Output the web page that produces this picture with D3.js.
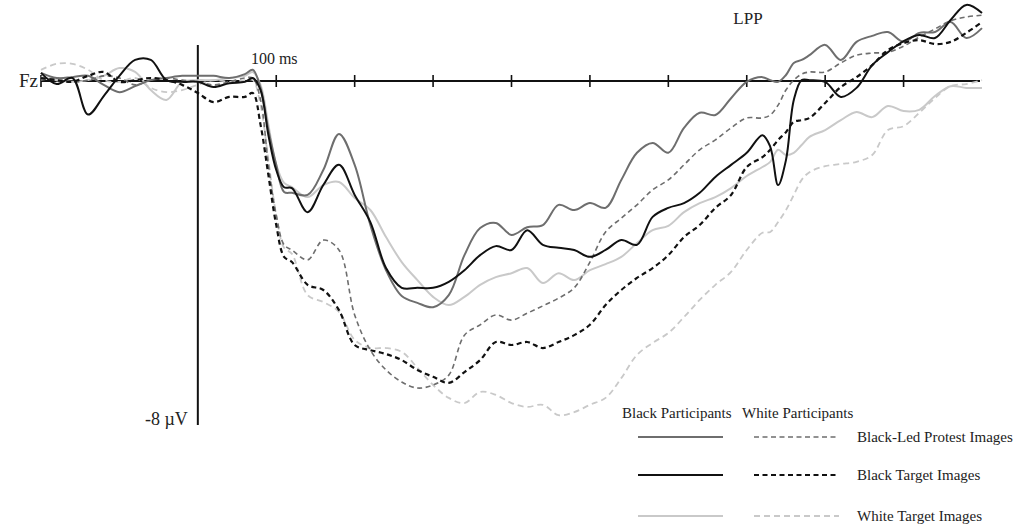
<!DOCTYPE html>
<html>
<head>
<meta charset="utf-8">
<script src="https://cdn.jsdelivr.net/npm/d3@7/dist/d3.min.js"></script>
<style>
  body { margin: 0; background: #fff; }
  text { font-family: "Liberation Serif", "Times New Roman", serif; fill: #222; }
</style>
</head>
<body>
<div id="vis"></div>
<script>
// ERP at Fz, time in ms, amplitude in microvolts (negative plotted down)
const times = [-200, -180, -160, -140, -120, -100, -80, -60, -40, -20,
  0, 20, 40, 60, 70, 80, 90, 100, 110, 120,
  140, 160, 180, 200, 220, 240, 260, 280, 300, 320,
  340, 360, 380, 400, 420, 440, 460, 480, 500, 520,
  540, 560, 580, 600, 620, 640, 660, 680, 700, 720,
  730, 740, 750, 760, 770, 780, 800, 820, 840, 860,
  880, 900, 920, 940, 960, 980, 1000]

// Black participants
const blackPartProtest = [0.19, 0.07, 0.09, 0.12, -0.09, -0.26, -0.12, 0.02, 0.07, 0.12,
  0.12, 0.12, 0.07, 0.16, 0.26, -0.16, -1.14, -1.95, -2.58, -2.60,
  -2.65, -2.07, -1.23, -1.95, -3.35, -4.40, -5.00, -5.16, -5.26, -4.98,
  -4.05, -3.42, -3.30, -3.58, -3.40, -3.35, -2.88, -3.00, -2.84, -2.95,
  -2.30, -1.67, -1.44, -1.67, -1.09, -0.74, -0.79, -0.40, -0.02, 0.09,
  0.02, -0.02, 0.14, 0.42, 0.49, 0.60, 0.84, 0.49, 0.91, 1.05,
  1.14, 0.91, 1.12, 1.14, 1.37, 1.00, 1.23]
const blackPartBlack = [0.19, -0.07, 0.07, -0.78, -0.35, 0.12, 0.49, 0.49, 0.02, -0.02,
  -0.02, -0.14, -0.05, -0.02, 0.07, -0.21, -1.26, -2.07, -2.47, -2.49,
  -3.05, -2.42, -1.95, -2.65, -3.28, -4.35, -4.81, -4.81, -4.81, -4.67,
  -4.40, -4.05, -3.84, -3.93, -3.47, -3.81, -3.88, -3.93, -4.09, -3.93,
  -3.70, -3.81, -3.16, -2.95, -2.84, -2.60, -2.23, -1.95, -1.67, -1.26,
  -1.53, -2.42, -1.84, -0.44, 0.02, 0.02, -0.02, -0.37, -0.16, 0.37,
  0.67, 0.93, 1.07, 1.00, 1.42, 1.77, 1.58]
const blackPartWhite = [0.09, 0.02, -0.02, 0.02, 0.12, 0.30, 0.21, -0.21, -0.44, -0.02,
  0.02, 0.02, 0.07, 0.12, 0.21, -0.09, -1.02, -1.95, -2.37, -2.47,
  -2.70, -2.42, -2.35, -2.72, -3.00, -3.63, -4.21, -4.63, -5.02, -5.21,
  -5.02, -4.74, -4.56, -4.47, -4.35, -4.70, -4.47, -4.63, -4.40, -4.26,
  -4.09, -3.77, -3.47, -3.37, -3.05, -2.84, -2.70, -2.49, -2.21, -2.00,
  -1.88, -1.60, -1.72, -1.67, -1.49, -1.30, -1.14, -0.91, -0.72, -0.84,
  -0.58, -0.70, -0.67, -0.35, -0.12, -0.16, -0.16]

// White participants
const whitePartProtest = [0.02, 0.07, -0.02, 0.02, 0.12, 0.07, -0.09, 0.02, 0.07, 0.02,
  -0.02, -0.09, -0.02, 0.07, 0.07, -0.44, -1.95, -3.12, -3.81, -3.93,
  -4.16, -3.70, -3.93, -5.44, -6.26, -6.72, -7.00, -7.14, -7.07, -6.84,
  -5.91, -5.67, -5.44, -5.56, -5.40, -5.23, -5.05, -4.81, -4.21, -3.51,
  -3.19, -2.88, -2.53, -2.30, -1.95, -1.60, -1.37, -1.09, -0.86, -0.86,
  -0.79, -0.56, -0.21, 0.02, 0.16, 0.21, 0.21, 0.42, 0.60, 0.65,
  0.67, 0.81, 1.02, 1.21, 1.40, 1.49, 1.53]
const whitePartBlack = [0.07, 0.02, -0.02, 0.12, 0.21, -0.02, 0.02, 0.07, 0.02, -0.09,
  -0.28, -0.49, -0.37, -0.37, -0.28, -1.02, -2.19, -3.35, -4.09, -4.21,
  -4.74, -4.86, -5.33, -6.14, -6.26, -6.35, -6.49, -6.72, -6.88, -7.02,
  -6.77, -6.49, -6.07, -6.14, -6.07, -6.21, -6.07, -5.91, -5.67, -5.21,
  -4.86, -4.58, -4.35, -4.05, -3.63, -3.35, -2.95, -2.65, -2.00, -1.77,
  -1.60, -1.37, -1.19, -0.95, -0.91, -0.86, -0.51, -0.14, 0.09, 0.37,
  0.72, 0.88, 0.95, 0.86, 0.91, 1.12, 1.37]
const whitePartWhite = [0.26, 0.40, 0.40, 0.26, 0.02, -0.02, 0.07, -0.16, -0.26, -0.21,
  -0.09, 0.02, -0.02, 0.02, 0.02, -0.56, -1.84, -3.12, -3.88, -4.02,
  -4.98, -5.14, -5.37, -6.02, -6.21, -6.21, -6.30, -6.67, -7.07, -7.37,
  -7.49, -7.23, -7.30, -7.49, -7.58, -7.53, -7.77, -7.70, -7.53, -7.37,
  -6.91, -6.37, -6.09, -5.86, -5.49, -5.09, -4.74, -4.44, -3.93, -3.53,
  -3.51, -3.28, -3.00, -2.65, -2.30, -2.12, -1.98, -1.93, -1.88, -1.72,
  -1.14, -1.05, -0.74, -0.40, -0.12, -0.07, 0.02]

const tickTimes = [-200, 100, 200, 300, 400, 500, 600, 700, 800, 900]
const groupLabels = ["Black Participants", "White Participants"]
const imageLabels = ["Black-Led Protest Images", "Black Target Images", "White Target Images"]

const W = 1019, H = 527

const x = d3.scaleLinear().domain([-200, 1000]).range([41, 982])
const y = d3.scaleLinear().domain([-8, 0]).range([425, 81])

// styles per image type (row) and participant group (column)
const strokeColor = ["#6e6e6e", "#111", "#c9c9c9"]
const solidWidth = [2, 2, 2]
const dashWidth = [1.6, 2.2, 1.8]
const dashPattern = ["5,3.5", "5,3.5", "6,4"]

const series = [
  { vals: blackPartWhite, row: 2, col: 0 },
  { vals: whitePartWhite, row: 2, col: 1 },
  { vals: blackPartProtest, row: 0, col: 0 },
  { vals: whitePartProtest, row: 0, col: 1 },
  { vals: whitePartBlack, row: 1, col: 1 },
  { vals: blackPartBlack, row: 1, col: 0 },
]

const svg = d3.select("#vis").append("svg")
  .attr("width", W)
  .attr("height", H)

//axes
svg.append("line")
  .attr("x1", x(-200)).attr("x2", x(1000) - 2)
  .attr("y1", y(0)).attr("y2", y(0))
  .attr("stroke", "#111").attr("stroke-width", 2)

svg.selectAll(".tick")
  .data(tickTimes)
  .join("line")
  .attr("class", "tick")
  .attr("x1", d => x(d)).attr("x2", d => x(d))
  .attr("y1", y(0) - 6).attr("y2", y(0) + 6)
  .attr("stroke", "#111").attr("stroke-width", 1.6)

svg.append("line")
  .attr("x1", x(0)).attr("x2", x(0))
  .attr("y1", y(0.84)).attr("y2", y(-8))
  .attr("stroke", "#111").attr("stroke-width", 2)

svg.append("text")
  .attr("x", x(-200) - 3).attr("y", y(0) + 6)
  .attr("text-anchor", "end")
  .style("font-size", "19px")
  .text("Fz")

svg.append("text")
  .attr("x", x(100) - 2).attr("y", 64)
  .attr("text-anchor", "middle")
  .style("font-size", "16px")
  .text("100 ms")

svg.append("text")
  .attr("x", 748).attr("y", 24)
  .attr("text-anchor", "middle")
  .style("font-size", "17px")
  .text("LPP")

svg.append("text")
  .attr("x", x(0) - 10).attr("y", y(-8))
  .attr("text-anchor", "end")
  .style("font-size", "18px")
  .text("-8 \u00b5V")

//curves
const line = d3.line()
  .x((d, i) => x(times[i]))
  .y(d => y(d))
  .curve(d3.curveCatmullRom.alpha(0.5))

svg.selectAll(".erp")
  .data(series)
  .join("path")
  .attr("class", "erp")
  .attr("d", d => line(d.vals))
  .attr("fill", "none")
  .attr("stroke", d => strokeColor[d.row])
  .attr("stroke-width", d => d.col === 0 ? solidWidth[d.row] : dashWidth[d.row])
  .attr("stroke-dasharray", d => d.col === 0 ? null : dashPattern[d.row])
  .attr("stroke-linejoin", "round")

//legend
const legend = svg.append("g")
const colX = [[638, 723], [754, 839]]
const rowY = [437, 475, 516]

legend.selectAll(".grp")
  .data(groupLabels)
  .join("text")
  .attr("class", "grp")
  .attr("x", (d, i) => i === 0 ? 622 : 742)
  .attr("y", 418)
  .style("font-size", "15px")
  .text(d => d)

imageLabels.forEach((lab, r) => {
  [0, 1].forEach(c => {
    legend.append("line")
      .attr("x1", colX[c][0]).attr("x2", colX[c][1])
      .attr("y1", rowY[r]).attr("y2", rowY[r])
      .attr("stroke", strokeColor[r])
      .attr("stroke-width", c === 0 ? solidWidth[r] : dashWidth[r])
      .attr("stroke-dasharray", c === 0 ? null : dashPattern[r])
  })
  legend.append("text")
    .attr("x", 857).attr("y", rowY[r] + 5)
    .style("font-size", "15px")
    .text(lab)
})
</script>
</body>
</html>
